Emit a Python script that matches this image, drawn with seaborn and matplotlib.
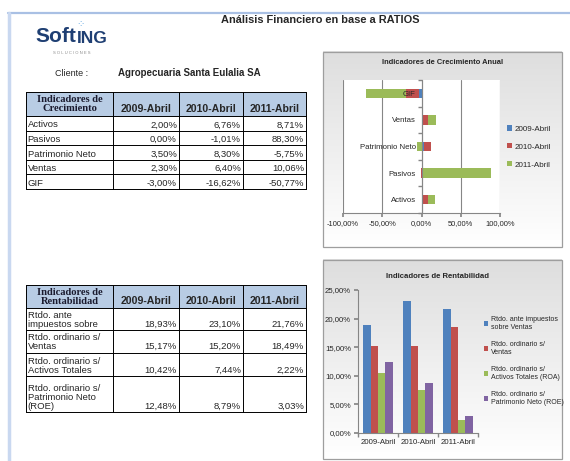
import numpy as np
import pandas as pd
import matplotlib
matplotlib.use('Agg')
import matplotlib.pyplot as plt
import seaborn as sns
from matplotlib.patches import Rectangle, Patch
from matplotlib.colors import LinearSegmentedColormap
from matplotlib.ticker import FuncFormatter, FixedLocator

# ---------------- data ----------------
years = ['2009-Abril', '2010-Abril', '2011-Abril']

growth_cats = ['Activos', 'Pasivos', 'Patrimonio Neto', 'Ventas', 'GIF']
growth_2009 = [2.00, 0.00, 3.50, 2.30, -3.00]
growth_2010 = [6.76, -1.01, 8.30, 6.40, -16.62]
growth_2011 = [8.71, 88.30, -5.75, 10.06, -50.77]

rent_table_labels = ['Rtdo. ante\nimpuestos sobre', 'Rtdo. ordinario s/\nVentas',
                     'Rtdo. ordinario s/\nActivos Totales', 'Rtdo. ordinario s/\nPatrimonio Neto\n(ROE)']
rent_legend_labels = ['Rtdo. ante impuestos\nsobre Ventas', 'Rtdo. ordinario s/\nVentas',
                      'Rtdo. ordinario s/\nActivos Totales (ROA)', 'Rtdo. ordinario s/\nPatrimonio Neto (ROE)']
rent_2009 = [18.93, 15.17, 10.42, 12.48]
rent_2010 = [23.10, 15.20, 7.44, 8.79]
rent_2011 = [21.76, 18.49, 2.22, 3.03]

series_colors = ['#4F81BD', '#C0504D', '#9BBB59', '#8064A2']

# ---------------- setup ----------------
sns.set_theme(style='white')
plt.rcParams['font.family'] = ['Liberation Sans', 'DejaVu Sans']
W, H = 570, 461
fig = plt.figure(figsize=(W / 100, H / 100), dpi=100)
fig.patch.set_facecolor('white')

bg = fig.add_axes([0, 0, 1, 1])
bg.axis('off')
bg.set_xlim(0, W)
bg.set_ylim(H, 0)

def pct(v):
    return f"{v:.2f}".replace('.', ',') + '%'

chart_font = ['Liberation Sans', 'DejaVu Sans']

# page borders
bg.plot([8, 570], [13, 13], color='#A9C0E4', lw=1.6)
bg.plot([8.5, 8.5], [13, 461], color='#C9D8F0', lw=2.5)

# logo
renderer = fig.canvas.get_renderer()
t_soft = bg.text(35, 37, 'Soft', fontsize=15, weight='bold', color='#1F3F73', va='center', ha='left')
bb = t_soft.get_window_extent(renderer)
x_end = bb.x1 * W / fig.bbox.width
bg.text(x_end + 0.5, 38.2, 'ING', fontsize=12.5, weight='bold', color='#1F3F73', va='center', ha='left')
bg.text(72, 53, 'S O L U C I O N E S', fontsize=3, color='#8A8A8A', va='center', ha='center')
bg.text(x_end + 4, 24.5, '\u2058', fontsize=7, color='#5BA3E0', va='center', ha='center')

# title and client
bg.text(320, 20, 'Análisis Financiero en base a RATIOS', fontsize=7.9, weight='bold', ha='center', va='center')
bg.text(55, 73, 'Cliente :', fontsize=6.5, ha='left', va='center')
bg.text(118, 73, 'Agropecuaria Santa Eulalia SA', fontsize=7.0, weight='bold', ha='left', va='center')

# ---------------- tables ----------------
def draw_table(x_edges, y_edges, header, labels, cols):
    bg.add_patch(Rectangle((x_edges[0], y_edges[0]), x_edges[-1] - x_edges[0], y_edges[1] - y_edges[0],
                           facecolor='#B8CCE4', edgecolor='none', zorder=1))
    for x in x_edges:
        bg.plot([x, x], [y_edges[0], y_edges[-1]], color='black', lw=0.7, zorder=2)
    for y in y_edges:
        bg.plot([x_edges[0], x_edges[-1]], [y, y], color='black', lw=0.7, zorder=2)
    bg.text((x_edges[0] + x_edges[1]) / 2, (y_edges[0] + y_edges[1]) / 2, header,
            fontsize=7.6, weight='bold', family=['Liberation Serif', 'DejaVu Serif'],
            ha='center', va='center', linespacing=1.0, color='#1a1a2e')
    for j, yr in enumerate(years):
        bg.text((x_edges[j + 1] + x_edges[j + 2]) / 2, y_edges[1] - 2, yr, fontsize=7.6, weight='bold',
                ha='center', va='bottom')
    for i, lab in enumerate(labels):
        yb = y_edges[i + 2] - 1.2
        bg.text(x_edges[0] + 1.5, yb, lab, fontsize=6.8, ha='left', va='bottom', linespacing=1.0)
        for j, col in enumerate(cols):
            bg.text(x_edges[j + 2] - 2, yb, pct(col[i]), fontsize=6.8, ha='right', va='bottom')

col_x = [26, 113, 179, 243, 306]
t1_y = [92, 116, 130.6, 145.2, 159.8, 174.4, 189]
draw_table(col_x, t1_y, 'Indicadores de\nCrecimiento', growth_cats,
           [growth_2009, growth_2010, growth_2011])
t2_y = [285, 308, 330, 352.5, 376, 412]
draw_table(col_x, t2_y, 'Indicadores de\nRentabilidad', rent_table_labels,
           [rent_2009, rent_2010, rent_2011])

# ---------------- chart boxes ----------------
cmap = LinearSegmentedColormap.from_list('g', ['#DEDEDE', '#FFFFFF'])
grad = np.linspace(0, 1, 200).reshape(-1, 1)
for (x0, x1, y0, y1) in [(323, 562, 52, 247), (323, 562, 260, 459)]:
    bg.imshow(grad, extent=(x0, x1, y1, y0), cmap=cmap, aspect='auto', origin='upper', zorder=0)
    bg.add_patch(Rectangle((x0, y0), x1 - x0, y1 - y0, facecolor='none', edgecolor='#9E9E9E', lw=0.9, zorder=1))

bg.text(443, 63, 'Indicadores de Crecimiento Anual', fontsize=5.4, weight='bold', ha='center', va='center', family=chart_font)
bg.text(437, 276, 'Indicadores de Rentabilidad', fontsize=5.6, weight='bold', ha='center', va='center', family=chart_font)

bg.set_xlim(0, W)
bg.set_ylim(H, 0)

grid_c = '#868686'

# ---------------- chart 1: stacked horizontal bars ----------------
ax1 = fig.add_axes([343 / W, 1 - 213 / H, 157 / W, 133 / H])
ax1.set_facecolor('white')
vals = np.array([growth_2009, growth_2010, growth_2011])
pos_cum = np.where(vals > 0, vals, 0).cumsum(axis=0)
neg_cum = np.where(vals < 0, vals, 0).cumsum(axis=0)
order1 = growth_cats[::-1]
for k in [2, 1, 0]:
    for arr in (pos_cum, neg_cum):
        d = pd.DataFrame({'cat': growth_cats, 'v': arr[k]})
        sns.barplot(data=d, x='v', y='cat', order=order1, orient='h', color=series_colors[k],
                    saturation=1, width=0.36, linewidth=0, errorbar=None, ax=ax1)
ax1.set_xlim(-100, 100)
ax1.set_ylim(4.5, -0.5)
xt = [-100, -50, 0, 50, 100]
ax1.set_xticks(xt)
ax1.xaxis.set_major_formatter(FuncFormatter(lambda v, p: pct(v)))
for t in xt:
    ax1.axvline(t, color=grid_c, lw=0.8, zorder=0.5)
ax1.set_axisbelow(False)
ax1.set_xlabel('')
ax1.set_ylabel('')
for s in ['top', 'right']:
    ax1.spines[s].set_visible(False)
ax1.spines['left'].set_position(('data', 0))
ax1.spines['left'].set_color(grid_c)
ax1.spines['bottom'].set_color(grid_c)
ax1.spines['left'].set_linewidth(0.8)
ax1.spines['bottom'].set_linewidth(0.8)
ax1.tick_params(axis='y', which='major', length=0, pad=4, labelsize=5.6)
ax1.yaxis.set_minor_locator(FixedLocator([-0.5, 0.5, 1.5, 2.5, 3.5, 4.5]))
ax1.tick_params(axis='y', which='minor', length=3, color=grid_c, direction='out', left=True)
ax1.tick_params(axis='x', which='major', length=3, color=grid_c, direction='out', bottom=True, labelsize=5.4, pad=2)

fig.legend([Patch(facecolor=c, edgecolor='none') for c in series_colors[:3]], years,
           loc='center left', bbox_to_anchor=(507 / W, 1 - 147 / H), frameon=False,
           prop={'size': 5.8}, handlelength=0.6, handleheight=0.6,
           labelspacing=1.3, handletextpad=0.4, borderaxespad=0, borderpad=0)

# ---------------- chart 2: grouped vertical bars ----------------
ax2 = fig.add_axes([358 / W, 1 - 433 / H, 120 / W, 143 / H])
ax2.patch.set_alpha(0)
rows = []
for yr, col in zip(years, [rent_2009, rent_2010, rent_2011]):
    for lab, v in zip(rent_legend_labels, col):
        rows.append({'year': yr, 'ind': lab, 'v': v})
df2 = pd.DataFrame(rows)
sns.barplot(data=df2, x='year', y='v', hue='ind', hue_order=rent_legend_labels, order=years,
            palette=series_colors, saturation=1, width=0.73, gap=0, linewidth=0,
            errorbar=None, legend=False, ax=ax2)
ax2.set_ylim(0, 25)
ax2.set_xlim(-0.5, 2.5)
ax2.set_yticks([0, 5, 10, 15, 20, 25])
ax2.yaxis.set_major_formatter(FuncFormatter(lambda v, p: pct(v)))
ax2.set_xlabel('')
ax2.set_ylabel('')
for s in ['top', 'right']:
    ax2.spines[s].set_visible(False)
for s in ['left', 'bottom']:
    ax2.spines[s].set_color(grid_c)
    ax2.spines[s].set_linewidth(0.8)
ax2.tick_params(axis='y', which='major', length=3, color=grid_c, direction='out', left=True, labelsize=5.6, pad=2)
ax2.tick_params(axis='x', which='major', length=0, labelsize=5.6, pad=4)
ax2.xaxis.set_minor_locator(FixedLocator([-0.5, 0.5, 1.5, 2.5]))
ax2.tick_params(axis='x', which='minor', length=3, color=grid_c, direction='out', bottom=True)

fig.legend([Patch(facecolor=c, edgecolor='none') for c in series_colors], rent_legend_labels,
           loc='center left', bbox_to_anchor=(484 / W, 1 - 361 / H), frameon=False,
           prop={'size': 5.0}, handlelength=0.6, handleheight=0.6,
           labelspacing=1.45, handletextpad=0.4, borderaxespad=0, borderpad=0)

fig.savefig('out.png', dpi=100)
